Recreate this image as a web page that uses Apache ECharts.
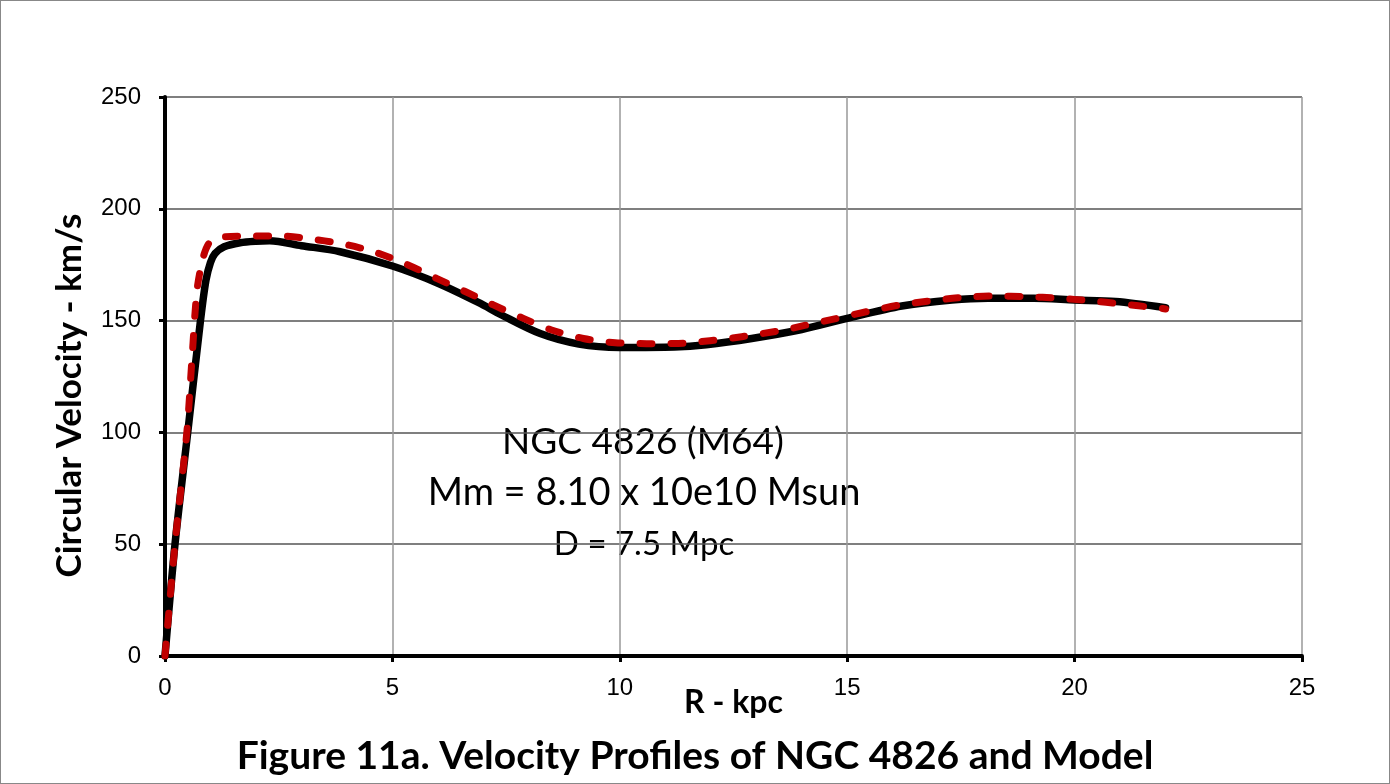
<!DOCTYPE html>
<html>
<head>
<meta charset="utf-8">
<script src="https://cdn.jsdelivr.net/npm/echarts@6/dist/echarts.min.js"></script>
<style>
html,body{margin:0;padding:0;background:#fff;}
#chart{width:1390px;height:784px;box-sizing:border-box;border:1px solid #888;}
</style>
</head>
<body>
<div id="chart"></div>
<script>
// Observed rotation curve (black solid)
const obsR = [0, 0.22, 0.5, 0.78, 0.9, 1.0, 1.1, 1.3, 1.65, 2.0, 2.3, 3.0, 3.85, 5.0, 6.0, 6.9, 7.4, 8.25, 9.1, 10.0, 11.2, 11.9, 12.9, 14.0, 15.0, 16.2, 17.3, 18.1, 19.1, 20.0, 20.9, 22.0];
const obsV = [0, 50, 100, 150, 168, 176, 180, 183, 184.8, 185.5, 185.7, 183.5, 180.8, 174.4, 166.7, 158, 152.5, 144.2, 139.5, 138, 138.2, 139.2, 142, 146, 151, 156.5, 159.2, 160, 160, 159.2, 158.5, 155.8];
// Model curve (red dashed)
const modelR = [0, 0.22, 0.48, 0.59, 0.70, 0.81, 0.9, 0.99, 1.32, 1.87, 2.56, 3.26, 3.96, 4.65, 5.31, 5.97, 6.6, 7.22, 7.88, 8.5, 9.2, 9.9, 10.59, 11.29, 11.98, 12.68, 13.6, 14.1, 14.77, 15.43, 16.16, 16.82, 17.55, 18.25, 18.95, 19.64, 20.34, 21.04, 21.77, 22.0];
const modelV = [0, 50, 100, 132, 163, 176, 182, 185, 187.5, 187.8, 187.8, 186.3, 184.1, 180.4, 175.2, 168.9, 163, 157, 151, 145.8, 142, 140.1, 139.7, 139.8, 141, 142.8, 145.8, 148, 151, 154, 157, 158.8, 160.4, 161, 160.7, 160, 158.9, 157.4, 155.8, 155.2];
const xTicks = [0, 5, 10, 15, 20, 25];
const yTicks = [0, 50, 100, 150, 200, 250];
const annotation = ['NGC 4826 (M64)', 'Mm = 8.10 x 10e10 Msun', 'D = 7.5 Mpc'];
const title = 'Figure 11a. Velocity Profiles of NGC 4826 and Model';
const xName = 'R - kpc';
const yName = 'Circular Velocity - km/s';

const chart = echarts.init(document.getElementById('chart'), null, {renderer: 'canvas'});
const pair = (a, b) => a.map((v, i) => [v, b[i]]);
const titleFont = 'Lato, "Open Sans", sans-serif';
const tickFont = '"Liberation Sans", Arial, sans-serif';
chart.setOption({
  animation: false,
  backgroundColor: '#fff',
  grid: {left: 164, top: 96, right: 87, bottom: 127, containLabel: false},
  xAxis: {
    type: 'value', min: xTicks[0], max: xTicks[xTicks.length - 1], interval: 5,
    axisLine: {show: true, onZero: false, lineStyle: {color: '#000', width: 4}},
    axisTick: {show: true, inside: false, length: 6, lineStyle: {color: '#000', width: 3}},
    axisLabel: {color: '#000', fontSize: 24, fontFamily: tickFont, margin: 20},
    splitLine: {show: true, lineStyle: {color: '#999', width: 1.5}},
    name: xName, nameLocation: 'middle', nameGap: 31, nameMoveOverlap: false,
    nameTextStyle: {color: '#000', fontSize: 32, fontWeight: 'bold', fontFamily: titleFont}
  },
  yAxis: {
    type: 'value', min: yTicks[0], max: yTicks[yTicks.length - 1], interval: 50,
    axisLine: {show: true, onZero: false, lineStyle: {color: '#000', width: 4}},
    axisTick: {show: true, inside: false, length: 6, lineStyle: {color: '#000', width: 3}},
    axisLabel: {color: '#000', fontSize: 24, fontFamily: tickFont, margin: 24},
    splitLine: {show: true, lineStyle: {color: '#555', width: 1.5}},
    name: yName, nameLocation: 'middle', nameGap: 78, nameRotate: 90,
    nameTextStyle: {color: '#000', fontSize: 35, fontWeight: 'bold', fontFamily: titleFont, padding: [0, 38, 0, 0]}
  },
  title: {
    text: title, left: 'center', top: 731,
    textStyle: {color: '#000', fontSize: 39, fontWeight: 'bold', fontFamily: titleFont}
  },
  graphic: [
    {type: 'text', x: 642, y: 441, style: {text: annotation[0], fontSize: 37, fontFamily: titleFont, fill: '#000', align: 'center', verticalAlign: 'middle'}},
    {type: 'text', x: 643, y: 492, style: {text: annotation[1], fontSize: 38, fontFamily: titleFont, fill: '#000', align: 'center', verticalAlign: 'middle'}},
    {type: 'text', x: 643, y: 543, style: {text: annotation[2], fontSize: 33, fontFamily: titleFont, fill: '#000', align: 'center', verticalAlign: 'middle'}}
  ],
  series: [
    {
      type: 'line', data: pair(obsR, obsV), showSymbol: false, smooth: 0.3,
      lineStyle: {color: '#000', width: 7.5, cap: 'round', join: 'round'}, z: 3
    },
    {
      type: 'line', data: pair(modelR, modelV), showSymbol: false, smooth: 0.3,
      lineStyle: {color: '#C00000', width: 7, type: [12, 19], cap: 'round', join: 'round'}, z: 4
    }
  ]
});
</script>
</body>
</html>
